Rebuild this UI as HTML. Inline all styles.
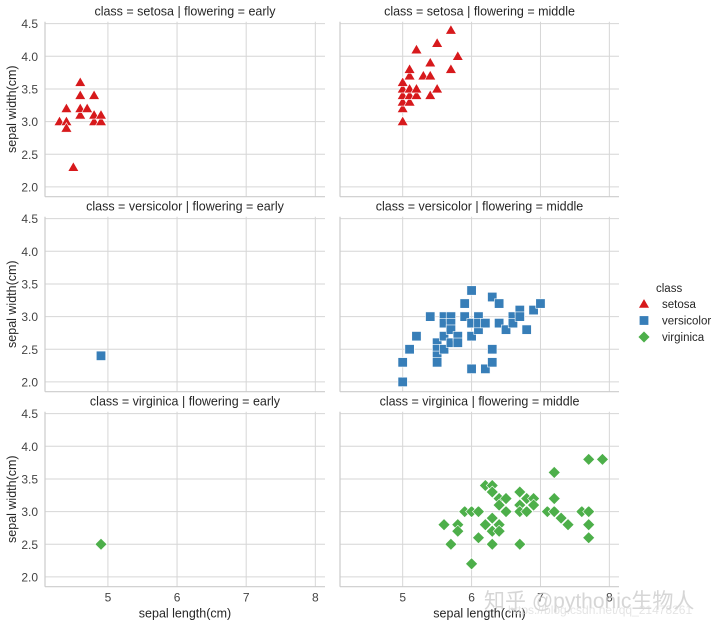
<!DOCTYPE html>
<html><head><meta charset="utf-8">
<style>
html,body{margin:0;padding:0;background:#fff;}
svg{display:block;font-family:"Liberation Sans","Noto Sans CJK SC",sans-serif;}
</style></head>
<body>
<svg id="chart" width="720" height="625" viewBox="0 0 720 625" xmlns="http://www.w3.org/2000/svg"></svg>
<script>
const xTicks = [5, 6, 7, 8];
const yTicks = [2.0, 2.5, 3.0, 3.5, 4.0, 4.5];
const classes = ["setosa", "versicolor", "virginica"];
const flowerings = ["early", "middle"];
const setosaEarlyX = [4.3,4.4,4.4,4.4,4.5,4.6,4.6,4.6,4.6,4.7,4.8,4.8,4.8,4.9,4.9];
const setosaEarlyY = [3.0,3.0,2.9,3.2,2.3,3.6,3.4,3.1,3.2,3.2,3.4,3.0,3.1,3.0,3.1];
const setosaMiddleX = [5.0,5.0,5.0,5.0,5.0,5.0,5.1,5.1,5.1,5.1,5.1,5.2,5.2,5.2,5.3,5.4,5.4,5.4,5.5,5.5,5.7,5.7,5.8];
const setosaMiddleY = [3.0,3.2,3.3,3.4,3.5,3.6,3.3,3.4,3.5,3.7,3.8,3.4,3.5,4.1,3.7,3.4,3.7,3.9,3.5,4.2,3.8,4.4,4.0];
const versicolorEarlyX = [4.9];
const versicolorEarlyY = [2.4];
const versicolorMiddleX = [5.0,5.0,5.1,5.2,5.4,5.5,5.5,5.5,5.5,5.6,5.6,5.6,5.6,5.7,5.7,5.7,5.7,5.8,5.8,5.9,5.9,6.0,6.0,6.0,6.0,6.1,6.1,6.1,6.2,6.2,6.3,6.3,6.3,6.4,6.4,6.5,6.6,6.6,6.7,6.7,6.8,6.9,7.0];
const versicolorMiddleY = [2.3,2.0,2.5,2.7,3.0,2.6,2.5,2.4,2.3,3.0,2.9,2.7,2.5,3.0,2.9,2.8,2.6,2.7,2.6,3.2,3.0,3.4,2.9,2.7,2.2,3.0,2.8,2.9,2.9,2.2,3.3,2.5,2.3,3.2,2.9,2.8,3.0,2.9,3.1,3.0,2.8,3.1,3.2];
const virginicaEarlyX = [4.9];
const virginicaEarlyY = [2.5];
const virginicaMiddleX = [5.6,5.7,5.8,5.8,5.9,6.0,6.0,6.1,6.1,6.2,6.2,6.3,6.3,6.3,6.3,6.3,6.4,6.4,6.4,6.4,6.5,6.5,6.7,6.7,6.7,6.7,6.8,6.8,6.9,6.9,7.1,7.2,7.2,7.2,7.3,7.4,7.6,7.7,7.7,7.7,7.7,7.9];
const virginicaMiddleY = [2.8,2.5,2.8,2.7,3.0,3.0,2.2,3.0,2.6,3.4,2.8,3.4,3.3,2.9,2.7,2.5,3.2,3.1,2.8,2.7,3.2,3.0,3.3,3.1,3.0,2.5,3.2,3.0,3.2,3.1,3.0,3.6,3.2,3.0,2.9,2.8,3.0,3.0,2.8,2.6,3.8,3.8];

const NS = "http://www.w3.org/2000/svg";
const svg = document.getElementById("chart");
function mk(tag, attrs, parent){ const e=document.createElementNS(NS,tag); for(const k in attrs) e.setAttribute(k,attrs[k]); (parent||svg).appendChild(e); return e; }

const colX = [45, 340], axW = [280, 279];
const rowY = [21.7, 216.7, 411.7], axH = 175;
const xMin = 4.09, xMax = 8.14, yMin = 1.85, yMax = 4.53;
const colors = {setosa:"#d7191c", versicolor:"#377eb8", virginica:"#4daf4a"};
const data = {
  setosa:[[setosaEarlyX,setosaEarlyY],[setosaMiddleX,setosaMiddleY]],
  versicolor:[[versicolorEarlyX,versicolorEarlyY],[versicolorMiddleX,versicolorMiddleY]],
  virginica:[[virginicaEarlyX,virginicaEarlyY],[virginicaMiddleX,virginicaMiddleY]]
};
function xScale(c,v){ return colX[c] + (v-xMin)/(xMax-xMin)*axW[c]; }
function yScale(r,v){ return rowY[r] + (yMax-v)/(yMax-yMin)*axH; }

function marker(cls, x, y, parent){
  let e;
  if(cls==="setosa"){
    e = mk("polygon",{points:`${x},${y-5.5} ${x+5.5},${y+4} ${x-5.5},${y+4}`},parent);
  } else if(cls==="versicolor"){
    e = mk("rect",{x:x-4.7,y:y-4.7,width:9.4,height:9.4},parent);
  } else {
    e = mk("polygon",{points:`${x},${y-6} ${x+6},${y} ${x},${y+6} ${x-6},${y}`},parent);
  }
  e.setAttribute("fill",colors[cls]); e.setAttribute("stroke","#fff"); e.setAttribute("stroke-width","0.6");
  return e;
}

classes.forEach((cls,r)=>{
  flowerings.forEach((fl,c)=>{
    const g = mk("g",{});
    
    
    const x0=colX[c], y0=rowY[r], w=axW[c];
    xTicks.forEach(t=>{ const gx=xScale(c,t); const l=mk("line",{x1:gx,x2:gx,y1:y0,y2:y0+axH,stroke:"#d6d6d6","stroke-width":1},g);
        });
    yTicks.forEach(t=>{ const gy=yScale(r,t); const l=mk("line",{x1:x0,x2:x0+w,y1:gy,y2:gy,stroke:"#d6d6d6","stroke-width":1},g);
        });
    const sp1=mk("line",{x1:x0,x2:x0,y1:y0,y2:y0+axH,stroke:"#cccccc","stroke-width":1.2},g);
     
    const sp2=mk("line",{x1:x0,x2:x0+w,y1:y0+axH,y2:y0+axH,stroke:"#cccccc","stroke-width":1.2},g);
     
    const title=mk("text",{x:x0+w/2,y:y0-6,"text-anchor":"middle","font-size":12.5,fill:"#262626"},g);
    title.textContent=`class = ${cls} | flowering = ${fl}`;
     
    if(c===0){
      yTicks.forEach(t=>{ const tx=mk("text",{x:x0-7,y:yScale(r,t)+4.5,"text-anchor":"end","font-size":12,fill:"#444"},g);
        tx.textContent=t.toFixed(1);   });
      const yl=mk("text",{x:0,y:0,"text-anchor":"middle","font-size":12.5,fill:"#262626",transform:`translate(16,${y0+axH/2}) rotate(-90)`},g);
      yl.textContent="sepal width(cm)";  
    }
    if(r===2){
      xTicks.forEach(t=>{ const tx=mk("text",{x:xScale(c,t),y:y0+axH+15,"text-anchor":"middle","font-size":12,fill:"#444"},g);
        tx.textContent=t;   });
      const xl=mk("text",{x:x0+w/2,y:y0+axH+31,"text-anchor":"middle","font-size":12.5,fill:"#262626"},g);
      xl.textContent="sepal length(cm)";  
    }
    const [xs,ys]=data[cls][c];
    xs.forEach((v,i)=>{ const m=marker(cls,xScale(c,v),yScale(r,ys[i]),g);
        });
  });
});

// legend
const lg = mk("g",{});
 
const lt = mk("text",{x:656,y:292,"font-size":11.5,fill:"#262626"},lg);
lt.textContent="class";  
classes.forEach((cls,i)=>{
  const yy=304+i*16.5;
  const m=marker(cls,644,yy,lg);
   
  const t=mk("text",{x:662,y:yy+4,"font-size":11.5,fill:"#262626"},lg);
  t.textContent=cls;  
});

// watermark
const w1=mk("text",{x:484,y:608,"font-size":21,fill:"#c8c8c8","fill-opacity":0.75},svg);
w1.textContent="知乎 @pythonic生物人";
 
const w2=mk("text",{x:508,y:614,"font-size":12,fill:"#d8d8d8","fill-opacity":0.7},svg);
w2.textContent="https://blog.csdn.net/qq_21478261";
 
</script>
</body></html>
